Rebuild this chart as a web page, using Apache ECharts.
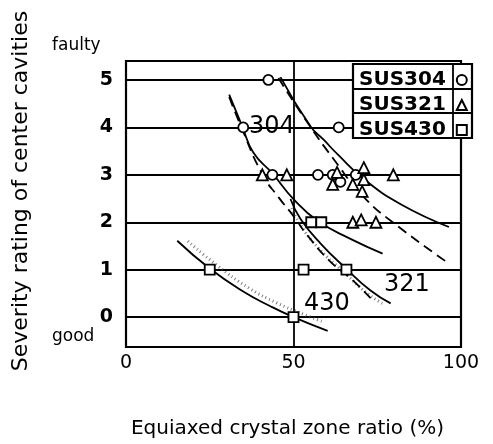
<!DOCTYPE html>
<html>
<head>
<meta charset="utf-8">
<script src="https://cdn.jsdelivr.net/npm/echarts@6/dist/echarts.min.js"></script>
<style>
    html, body { margin: 0; padding: 0; background: #fff; }
    #main { width: 493px; height: 444px; }
</style>
</head>
<body>
<div id="main"></div>
<script>
var sus304 = [[42.5, 5], [35, 4], [63.5, 4], [43.7, 3], [57.3, 3], [61.7, 3], [64, 2.85], [68.6, 3]];
var sus321 = [[40.7, 3], [48, 3], [61.7, 2.8], [63, 3.05], [67.7, 2.8], [71, 3.15], [71, 2.9], [70.5, 2.65],
    [79.8, 3], [67.7, 2], [70.2, 2.05], [74.6, 2]];
var sus430 = [[25, 1], [55.3, 2], [58.3, 2], [53, 1], [65.8, 1], [50, 0]];

// boundary curves
var curve304Left = [[30.8, 4.69], [34.7, 4.02], [38, 3.47], [43.7, 3.03], [50, 2.49], [57.2, 2.03], [67, 1.65], [76.6, 1.34]];
var curve304Right = [[46.1, 5.06], [55.1, 4.02], [59, 3.74], [63.2, 3.43], [71, 2.91], [82, 2.38], [96.4, 1.9]];
var curve321Left = [[30.8, 4.64], [34.1, 4.06], [40.7, 3.01], [45.5, 2.53], [50, 2.13], [54.2, 1.72], [61, 1.17], [67, 0.82], [73, 0.4]];
var curve321Right = [[45.5, 5.04], [53.6, 4.16], [62, 3.33], [71, 2.53], [81.1, 1.92], [96.4, 1.13]];
var curve430Upper = [[49.1, 2.49], [52.1, 2.07], [58.1, 1.55], [65.6, 1.03], [73, 0.56], [79, 0.29]];
var curve430Lower = [[15.3, 1.61], [24.9, 1.03], [35, 0.54], [43.1, 0.23], [50, 0], [60.2, -0.29]];
// stippled edges of the 430 band
var stipple430Upper = [[49.5, 2.3], [52, 1.95], [57.5, 1.45], [65, 0.95], [72, 0.5], [77, 0.27]];
var stipple430Lower = [[18.5, 1.6], [27, 1.1], [37, 0.6], [45, 0.3], [53, 0.06], [59, -0.1]];

var yTicks = [0, 1, 2, 3, 4, 5];
var xGrid = [50];
var seriesNames = ['SUS304', 'SUS321', 'SUS430'];

var FONT = 'DejaVu Sans';

function curve(data, type) {
    return {
        type: 'line',
        data: data,
        smooth: 0.5,
        showSymbol: false,
        silent: true,
        z: 3,
        lineStyle: { color: '#000', width: 1.8, type: type }
    };
}

function stipple(data) {
    return {
        type: 'line',
        data: data,
        smooth: 0.5,
        showSymbol: false,
        silent: true,
        z: 2,
        lineStyle: { color: '#444', width: 3, type: [1, 3], opacity: 0.7 }
    };
}

function marks(name, data, symbol) {
    return {
        name: name,
        type: 'scatter',
        data: data,
        symbol: symbol,
        symbolSize: symbol == 'triangle' ? 11 : 10,
        z: 4,
        itemStyle: { color: '#fff', borderColor: '#000', borderWidth: 1.8, opacity: 1 }
    };
}

window.onload = function() {
    var myChart = echarts.init(document.getElementById('main'));

    var gridLines = [];
    for (var i = 0; i < yTicks.length; i++) gridLines.push({ yAxis: yTicks[i] });
    for (var j = 0; j < xGrid.length; j++) gridLines.push({ xAxis: xGrid[j] });

    var s304 = marks(seriesNames[0], sus304, 'circle');
    s304.markLine = {
        silent: true,
        symbol: 'none',
        z: 1,
        label: { show: false },
        lineStyle: { color: '#000', width: 1.8, type: 'solid', opacity: 1 },
        data: gridLines
    };

    var option = {
        backgroundColor: '#fff',
        animation: false,
        textStyle: { fontFamily: FONT },
        grid: {
            left: 126, right: 32, top: 61, bottom: 95,
            show: true, borderColor: '#000', borderWidth: 2.2
        },
        xAxis: {
            type: 'value',
            min: 0, max: 100, interval: 50,
            name: 'Equiaxed crystal zone ratio (%)',
            nameLocation: 'middle',
            nameGap: 72,
            nameTextStyle: { fontSize: 20, color: '#000', fontFamily: FONT, padding: [0, 12, 0, 0] },
            axisLine: { show: false },
            axisTick: { show: false },
            splitLine: { show: false },
            axisLabel: { fontSize: 19, color: '#000', margin: 7, fontFamily: FONT }
        },
        yAxis: {
            type: 'value',
            min: -0.63, max: 5.4,
            name: 'Severity rating of center cavities',
            nameLocation: 'middle',
            nameGap: 94,
            nameTextStyle: { fontSize: 22, color: '#000', fontFamily: FONT, padding: [0, 0, 0, 26] },
            axisLine: { show: false },
            axisTick: { show: false },
            splitLine: { show: false },
            axisLabel: { fontSize: 19, fontWeight: 'bold', color: '#000', margin: 13, fontFamily: FONT, customValues: yTicks }
        },
        legend: {
            data: seriesNames,
            orient: 'vertical',
            align: 'right',
            left: 354, top: 65,
            itemGap: 5,
            itemWidth: 10, itemHeight: 10,
            z: 20,
            textStyle: { fontSize: 20, fontWeight: 'bold', color: '#000', fontFamily: FONT, lineHeight: 20, padding: [0, 6, 0, 0] }
        },
        graphic: [
            { type: 'rect', z: 10, shape: { x: 353, y: 64, width: 119, height: 74 },
              style: { fill: '#fff', stroke: '#000', lineWidth: 2.2 } },
            { type: 'line', z: 11, shape: { x1: 353, y1: 89, x2: 472, y2: 89 }, style: { stroke: '#000', lineWidth: 1.8 } },
            { type: 'line', z: 11, shape: { x1: 353, y1: 113, x2: 472, y2: 113 }, style: { stroke: '#000', lineWidth: 1.8 } },
            { type: 'line', z: 11, shape: { x1: 453, y1: 64, x2: 453, y2: 138 }, style: { stroke: '#000', lineWidth: 1.8 } },
            { type: 'text', z: 11, left: 52, top: 37, style: { text: 'faulty', fontSize: 17, fill: '#000', fontFamily: FONT } },
            { type: 'text', z: 11, left: 52, top: 328, style: { text: 'good', fontSize: 17, fill: '#000', fontFamily: FONT } },
            { type: 'text', z: 11, left: 249, top: 115, style: { text: '304', fontSize: 24, fill: '#000', fontFamily: FONT } },
            { type: 'text', z: 11, left: 384, top: 273, style: { text: '321', fontSize: 24, fill: '#000', fontFamily: FONT } },
            { type: 'text', z: 11, left: 304, top: 292, style: { text: '430', fontSize: 24, fill: '#000', fontFamily: FONT } }
        ],
        series: [
            stipple(stipple430Upper),
            stipple(stipple430Lower),
            curve(curve304Left, 'solid'),
            curve(curve304Right, 'solid'),
            curve(curve321Left, [10, 6]),
            curve(curve321Right, [10, 6]),
            curve(curve430Upper, 'solid'),
            curve(curve430Lower, 'solid'),
            s304,
            marks(seriesNames[1], sus321, 'triangle'),
            marks(seriesNames[2], sus430, 'rect')
        ]
    };

    myChart.setOption(option);
}
</script>
</body>
</html>
